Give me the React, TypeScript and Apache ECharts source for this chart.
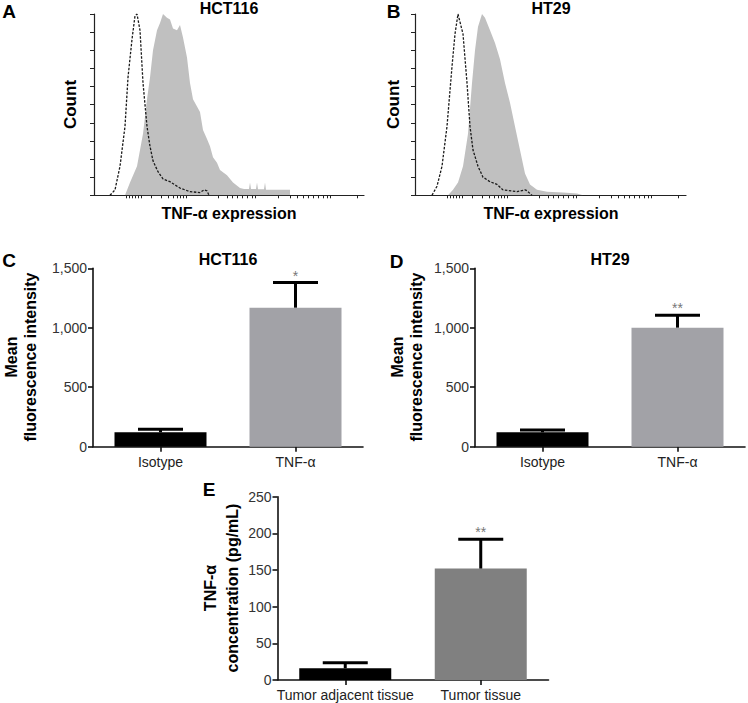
import React, { useEffect, useRef } from "react";
import * as echarts from "echarts";

// ---------- DATA ----------
// Flow cytometry histograms: [channel, % of max count]
const hctIsotype = [[16,0],[21,3],[26,16],[31,38],[34,65],[38,86],[41,99],[43,100],[46,91],[49,62],[53,38],[56,27],[59,19],[64,13],[69,9],[76,7.5],[86,4],[96,2],[106,1.5],[110,3],[113,2.5],[115,0]];
const hctTnf = [[31,0],[36,7],[43,16],[49,34],[53,53],[56,65],[59,80],[63,91],[66,95],[69,100],[73,98],[76,97],[79,92],[83,91],[86,94],[89,87],[93,76],[96,62],[99,53],[103,49],[106,46],[109,36],[113,31],[116,27],[119,21],[123,18],[126,14],[133,11],[139,7],[146,4],[150,3.5],[155,3.5],[156,7],[157,3.5],[162,3.5],[163,7],[164,3.3],[170,3.3],[171,7],[172,3],[196,3],[196,0]];
const htIsotype = [[17,0],[22,5],[27,16],[32,38],[37,71],[40,89],[43,100],[48,89],[52,62],[55,38],[58,25],[63,16],[68,10],[75,7.5],[82,6],[88,3],[102,2],[110,3],[112,2.5],[117,0]];
const htTnf = [[33,0],[38,3],[43,7],[48,16],[53,34],[57,62],[60,80],[63,93],[67,100],[70,98],[75,91],[80,84],[85,75],[90,62],[95,51],[100,38],[105,25],[110,12],[115,6],[122,3],[132,2],[148,1.5],[162,1],[168,0]];
const histTicks = [32,35,38,41,44,47,57,67,74,79,83,86,89,92,124,133,138,143,148,153,158,161,184,196,203,209,214,219,224,229,233,236,263];

// Mean fluorescence intensity
const mfiCategories = ["Isotype", "TNF-\u03b1"];
const hctMean = [121, 1169];
const hctUpper = [146, 1380];
const hctSig = ["", "*"];
const htMean = [121, 1001];
const htUpper = [140, 1105];
const htSig = ["", "**"];

// Tissue concentration
const tissueCategories = ["Tumor adjacent tissue", "Tumor tissue"];
const tissueMean = [16, 152];
const tissueUpper = [23.6, 192];
const tissueSig = ["", "**"];

const FONT = "Liberation Sans, Arial, Helvetica, sans-serif";

export default function App() {
  const ref = useRef<HTMLDivElement>(null);

  useEffect(() => {
    if (!ref.current) return;
    const chart = echarts.init(ref.current, null, { renderer: "svg" });

    const grids = [
      { left: 94, top: 14, width: 270, height: 181.3 },
      { left: 415, top: 14, width: 271, height: 181.3 },
      { left: 93, top: 268.3, width: 270, height: 178.4 },
      { left: 475, top: 268.3, width: 270, height: 178.4 },
      { left: 277.5, top: 496.7, width: 271, height: 183.3 },
    ];

    const histX = (gi: number, max: number) => ({
      type: "value",
      gridIndex: gi,
      min: 0,
      max,
      axisLine: { show: true, lineStyle: { color: "#222", width: 1.2 } },
      axisTick: { show: true, length: 3, customValues: histTicks.filter((t) => t <= max), lineStyle: { color: "#222", width: 1 } },
      axisLabel: { show: false },
      splitLine: { show: false },
    });
    const histY = (gi: number) => ({
      type: "value",
      gridIndex: gi,
      min: 0,
      max: 100,
      interval: 10,
      axisLine: { show: true, lineStyle: { color: "#222", width: 1.2 } },
      axisTick: { show: true, length: 4, lineStyle: { color: "#222", width: 1 } },
      axisLabel: { show: false },
      splitLine: { show: false },
    });
    const catX = (gi: number, cats: string[]) => ({
      type: "category",
      gridIndex: gi,
      data: cats,
      axisLine: { show: true, lineStyle: { color: "#111", width: 1.6 } },
      axisTick: { show: true, alignWithLabel: true, length: 5, lineStyle: { color: "#111", width: 1.6 } },
      axisLabel: { color: "#222", fontSize: 14, fontFamily: FONT, margin: 8, interval: 0 },
      splitLine: { show: false },
    });
    const valY = (gi: number, max: number, interval: number) => ({
      type: "value",
      gridIndex: gi,
      min: 0,
      max,
      interval,
      axisLine: { show: true, lineStyle: { color: "#111", width: 1.6 } },
      axisTick: { show: true, length: 5, lineStyle: { color: "#111", width: 1.6 } },
      axisLabel: {
        color: "#333",
        fontSize: 14,
        fontFamily: FONT,
        margin: 6,
        formatter: (v: number) => v.toLocaleString("en-US"),
      },
      splitLine: { show: false },
    });

    const barSeries = (gi: number, vals: number[], colors: string[]) => ({
      type: "bar",
      xAxisIndex: gi,
      yAxisIndex: gi,
      barWidth: 92,
      data: vals.map((v, i) => ({ value: v, itemStyle: { color: colors[i] } })),
      z: 2,
    });
    const errSeries = (gi: number, mean: number[], upper: number[], sig: string[]) => ({
      type: "custom",
      xAxisIndex: gi,
      yAxisIndex: gi,
      z: 3,
      encode: { x: 0, y: [1, 2] },
      data: mean.map((m, i) => [i, m, upper[i]]),
      renderItem: (params: any, api: any) => {
        const x = api.value(0);
        const m = api.value(1);
        const u = api.value(2);
        const p0 = api.coord([x, m]);
        const p1 = api.coord([x, u]);
        const half = 22.5;
        return {
          type: "group",
          children: [
            { type: "line", shape: { x1: p0[0], y1: p0[1], x2: p1[0], y2: p1[1] }, style: { stroke: "#000", lineWidth: 3 } },
            { type: "line", shape: { x1: p1[0] - half, y1: p1[1], x2: p1[0] + half, y2: p1[1] }, style: { stroke: "#000", lineWidth: 3 } },
            {
              type: "text",
              x: p1[0],
              y: p1[1] - 7,
              style: { text: sig[params.dataIndex], fill: "#777", fontSize: 14, fontFamily: FONT, textAlign: "center", textVerticalAlign: "middle" },
            },
          ],
        };
      },
    });

    const histArea = (gi: number, data: number[][]) => ({
      type: "line",
      xAxisIndex: gi,
      yAxisIndex: gi,
      data,
      symbol: "none",
      lineStyle: { width: 0 },
      areaStyle: { color: "#c0c0c0", opacity: 1 },
      z: 2,
    });
    const histLine = (gi: number, data: number[][]) => ({
      type: "line",
      xAxisIndex: gi,
      yAxisIndex: gi,
      data,
      symbol: "none",
      lineStyle: { width: 1.3, color: "#1a1a1a", type: [2.5, 1.5] },
      z: 3,
    });

    const txt = (text: string, x: number, y: number, size: number, bold = true, rotation = 0, lineHeight?: number, fill = "#000") => ({
      type: "text",
      x,
      y,
      rotation,
      style: {
        text,
        fill,
        fontSize: size,
        fontWeight: bold ? "bold" : "normal",
        fontFamily: FONT,
        textAlign: "center",
        textVerticalAlign: "middle",
        lineHeight: lineHeight || size * 1.2,
      },
    });
    const R = Math.PI / 2;

    const graphic = [
      txt("A", 9, 11, 19),
      txt("B", 393.5, 11, 19),
      txt("HCT116", 229, 8.5, 16),
      txt("HT29", 551, 8.5, 16),
      txt("Count", 70, 104.5, 17, true, R),
      txt("Count", 393.5, 104.5, 17, true, R),
      txt("TNF-\u03b1 expression", 229, 213, 16),
      txt("TNF-\u03b1 expression", 551, 213, 16),
      txt("C", 9, 260.5, 19),
      txt("D", 396.5, 261, 19),
      txt("HCT116", 228, 259, 16),
      txt("HT29", 610, 259, 16),
      txt("Mean\nfluorescence intensity", 20.5, 357, 16, true, R, 19),
      txt("Mean\nfluorescence intensity", 406.5, 357, 16, true, R, 19),
      txt("E", 209, 489.5, 19),
      txt("TNF-\u03b1\nconcentration (pg/mL)", 221, 588, 16, true, R, 22),
    ];

    chart.setOption({
      animation: false,
      backgroundColor: "#fff",
      textStyle: { fontFamily: FONT },
      grid: grids.map((g) => ({ ...g, containLabel: false })),
      xAxis: [
        histX(0, 270),
        histX(1, 271),
        catX(2, mfiCategories),
        catX(3, mfiCategories),
        catX(4, tissueCategories),
      ],
      yAxis: [histY(0), histY(1), valY(2, 1500, 500), valY(3, 1500, 500), valY(4, 250, 50)],
      series: [
        histArea(0, hctTnf),
        histLine(0, hctIsotype),
        histArea(1, htTnf),
        histLine(1, htIsotype),
        barSeries(2, hctMean, ["#000000", "#a2a2a7"]),
        errSeries(2, hctMean, hctUpper, hctSig),
        barSeries(3, htMean, ["#000000", "#a2a2a7"]),
        errSeries(3, htMean, htUpper, htSig),
        barSeries(4, tissueMean, ["#000000", "#808080"]),
        errSeries(4, tissueMean, tissueUpper, tissueSig),
      ],
      graphic,
    });

    return () => chart.dispose();
  }, []);

  return <div ref={ref} style={{ position: "absolute", left: 0, top: 0, width: 748, height: 703 }} />;
}
